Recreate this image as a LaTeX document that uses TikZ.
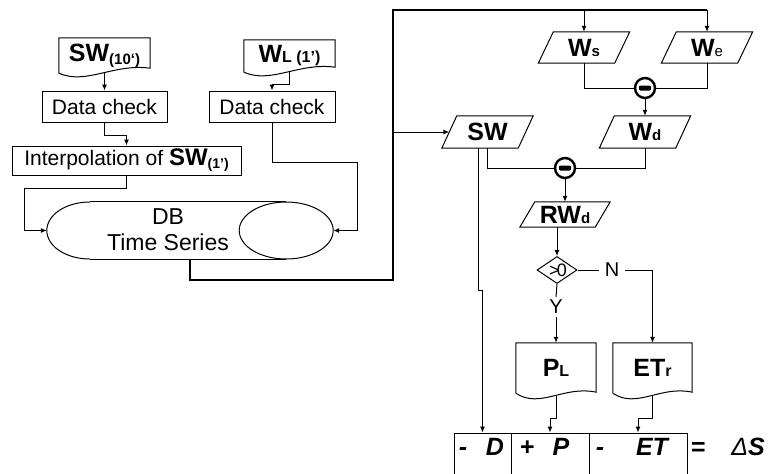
\documentclass[tikz,border=0pt]{standalone}
\usepackage{fontspec}
\setmainfont{Liberation Sans}
\usetikzlibrary{shapes.geometric,arrows.meta,calc}

\newcommand{\fs}[1]{\fontsize{#1}{#1}\selectfont}
\newcommand{\docwave}[4]{\draw[ln] (#1.south west) -- (#1.north west) -- (#1.north east) -- ($(#1.south east)+(0,#4)$) .. controls ($(#1.south west)!0.6!(#1.south east)+(0,#3)$) and ($(#1.south west)!0.3!(#1.south east)+(0,#2)$) .. (#1.south west);}
\newcommand{\parash}[1]{\draw[ln] ($(#1.north west)+(7.5,0)$) -- ($(#1.north east)+(7.5,0)$) -- ($(#1.south east)+(-7.5,0)$) -- ($(#1.south west)+(-7.5,0)$) -- cycle;}
\newcommand{\minusbar}[1]{\fill[rounded corners=1.2pt] ($(#1)+(-6,-2.5)$) rectangle ($(#1)+(6,2.5)$);}

\tikzset{
  ln/.style={line width=1pt},
  arr/.style={line width=1pt,-{Latex[length=6pt,width=5pt]}},
  thk/.style={line width=2.4pt},
  box/.style={draw,line width=1pt,inner sep=0pt,font=\fs{21}},
  blank/.style={inner sep=0pt},
  para/.style={inner sep=0pt,minimum width=76pt,font=\fs{25}\bfseries},
  minus/.style={circle,draw,line width=2.4pt,minimum size=20pt,inner sep=0pt},
  lab/.style={inner xsep=6pt,inner ysep=3pt,font=\fs{20}},
  bt/.style={inner sep=0pt,anchor=base,font=\fs{25}\bfseries\itshape}
}

\begin{document}
\begin{tikzpicture}[x=1pt,y=-1pt]
\useasboundingbox (0,0) rectangle (769,474);
\clip (0,0) rectangle (769,474);

% left column
\node[blank,minimum width=91pt,minimum height=35pt] (sw10) at (104.5,55.5) {\fs{25}\bfseries SW\raisebox{-3pt}{\fs{15}(10‘)}};
\docwave{sw10}{12}{-10}{-5}
\node[blank,minimum width=91pt,minimum height=32pt] (wl) at (289.5,56) {\fs{25}\bfseries W{\fs{16}L (1’)}};
\docwave{wl}{12}{-10}{-5}
\node[box,minimum width=125pt,minimum height=31pt] (dc1) at (104.5,106.5) {Data check};
\node[box,minimum width=126pt,minimum height=31pt] (dc2) at (272,106.5) {Data check};
\node[box,minimum width=229pt,minimum height=29pt] (interp) at (126.5,160.5) {Interpolation of {\fs{24}\bfseries SW\raisebox{-3pt}{\fs{14}(1’)}}};

% database
\node[blank,minimum width=286pt,minimum height=57pt] (db) at (190,230.5) {};
\draw[ln] ($(db.north west)+(43,0)$) -- ($(db.north east)+(-47,0)$);
\draw[ln] ($(db.south west)+(43,0)$) -- ($(db.south east)+(-47,0)$);
\draw[ln] ($(db.east)+(-47,0)$) ellipse [x radius=47, y radius=28.5];
\draw[ln] ($(db.west)+(43,-28.5)$) .. controls ($(db.west)+(19.25,-28.5)$) and ($(db.west)+(0,-15.74)$) .. (db.west)
          .. controls ($(db.west)+(0,15.74)$) and ($(db.west)+(19.25,28.5)$) .. ($(db.west)+(43,28.5)$);
\node[font=\fontsize{23}{26}\selectfont,align=center,inner sep=0pt] (dbt) at (168,230) {DB\\Time Series};

% right part
\node[para,minimum height=31pt] (ws) at (584,47.5) {W{\fs{15}s}};
\parash{ws}
\node[para,minimum height=31pt] (we) at (707,47.5) {W{\fs{15}\mdseries e}};
\parash{we}
\node[minus] (c1) at (645,88) {};
\minusbar{c1}
\node[para,minimum height=32pt] (sw) at (487.5,132) {SW};
\parash{sw}
\node[para,minimum height=32pt] (wd) at (645,132) {W{\fs{15}d}};
\parash{wd}
\node[minus] (c2) at (565,168) {};
\minusbar{c2}
\node[para,minimum height=25pt,minimum width=75pt] (rwd) at (565,214.5) {RW{\fs{15}d}};
\parash{rwd}
\node[diamond,draw,ln,minimum width=40pt,minimum height=27pt,inner sep=0pt,aspect=1.5] (dia) at (557,270) {};
\node[inner sep=0pt,font=\fs{18}] (diat) at (558,270) {>\kern-3pt0};
\node[lab] (nl) at (612,270) {N};
\node[lab] (yl) at (556,307) {Y};
\node[blank,minimum width=80pt,minimum height=50pt] (pl) at (556,368) {\fs{25}\bfseries P{\fs{16}L}};
\docwave{pl}{16}{-8}{-1}
\node[blank,minimum width=79pt,minimum height=50pt] (etr) at (652.5,368) {\fs{25}\bfseries ET{\fs{16}r}};
\docwave{etr}{16}{-8}{-1}

% bottom equation
\node[box,minimum width=57pt,minimum height=50pt] (bd) at (482.5,458) {};
\node[box,minimum width=78pt,minimum height=50pt] (bp) at (550,458) {};
\node[box,minimum width=98pt,minimum height=50pt] (bet) at (638,458) {};
\node[bt] (t1) at (463,455) {-};
\node[bt] (t2) at (495,455) {D};
\node[bt] (t3) at (527,455) {+};
\node[bt] (t4) at (561,455) {P};
\node[bt] (t5) at (600,455) {-};
\node[bt] (t6) at (652,455) {ET};
\node[bt] (t7) at (698,455) {=};
\node[bt] (t8) at (748,455) {{\mdseries Δ}S};

% connectors
\draw[arr] (sw10.south) -- (dc1.north);
\draw[arr] (wl.south) -- ++(0,12) -| (dc2.north);
\draw[arr] (dc1.south) -- ++(0,13) -| (interp.north);
\draw[arr] (interp.south) -- ++(0,13) -| ($(db.west)+(-22,0)$) -- (db.west);
\draw[arr] (dc2.south) -- ++(0,40) -| ($(db.east)+(24,0)$) -- (db.east);
\coordinate (tl) at (393,10);
\draw[thk] (db.south) -- ++(0,21) -| (tl) -- (tl -| we.north);
\draw[arr] (tl -| ws.north) -- (ws.north);
\draw[arr] (tl -| we.north) -- (we.north);
\draw[arr] (tl |- sw.west) -- (sw.west);
\draw[ln] (ws.south) |- (c1.west);
\draw[ln] (we.south) |- (c1.east);
\draw[arr] (c1.south) -- (wd.north);
\draw[ln] (sw.south) |- (c2.west);
\draw[ln] (wd.south) |- (c2.east);
\draw[arr] (c2.south) -- (rwd.north);
\draw[arr] (dia.north |- rwd.south) -- (dia.north);
\draw[ln] (dia.east) -- (nl.west);
\draw[arr] (nl.east) -| (etr.north);
\draw[ln] (dia.south) -- (yl.north);
\draw[arr] (yl.south) -- (pl.north);
\draw[arr] ($(pl.south)+(0,3)$) -- ++(0,22) -| (bp.north);
\draw[arr] ($(etr.south)+(0,3)$) -- ++(0,22) -| (bet.north);
\draw[arr] ($(sw.south)+(-9,0)$) -- ++(0,142) -| (bd.north);
\end{tikzpicture}
\end{document}
